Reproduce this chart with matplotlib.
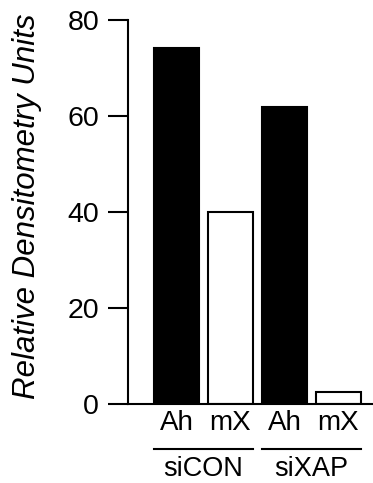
import matplotlib
matplotlib.use("Agg")
import matplotlib.pyplot as plt
import matplotlib.transforms as mtransforms

plt.rcParams['font.family'] = ['Liberation Sans', 'DejaVu Sans']

categories = ["Ah", "mX", "Ah", "mX"]
values = [74.1, 40.1, 61.8, 2.6]
groups = ["siCON", "siXAP"]
yticks = [0, 20, 40, 60, 80]
ylabel = "Relative Densitometry Units"

fig = plt.figure(figsize=(3.73, 4.83), dpi=100)
ax = fig.add_axes([127.5/373, 1-404/483, 1-127.5/373, (404-20)/483])

pos = [1, 2, 3, 4]
colors = ["black", "white", "black", "white"]
ax.bar(pos, values, width=0.82, color=colors, edgecolor="black", linewidth=1.5)

ax.set_xlim(0.093, 4.64)
ax.set_ylim(0, 80)
ax.set_yticks(yticks)
ax.set_xticks(pos)
ax.set_xticklabels(categories, fontsize=20)
ax.tick_params(axis='x', length=0, pad=4.5)
ax.tick_params(axis='y', length=14.4, width=1.5, labelsize=20.5, pad=6)
for s in ["top", "right"]:
    ax.spines[s].set_visible(False)
for s in ["left", "bottom"]:
    ax.spines[s].set_linewidth(1.5)

fig.text(27/373, 1-206.5/483, ylabel, fontsize=22.5, style="italic",
         rotation=90, ha="center", va="center")

trans = mtransforms.blended_transform_factory(ax.transData, fig.transFigure)
for i, g in enumerate(groups):
    x0 = pos[2*i] - 0.41
    x1 = pos[2*i+1] + 0.41
    ax.plot([x0, x1], [1-449/483, 1-449/483], color="black", lw=1.5,
            transform=trans, clip_on=False)
    ax.text((x0+x1)/2, 1-481.5/483, g, fontsize=19.5, ha="center", va="bottom",
            transform=trans)

fig.savefig("out.png", dpi=100)
